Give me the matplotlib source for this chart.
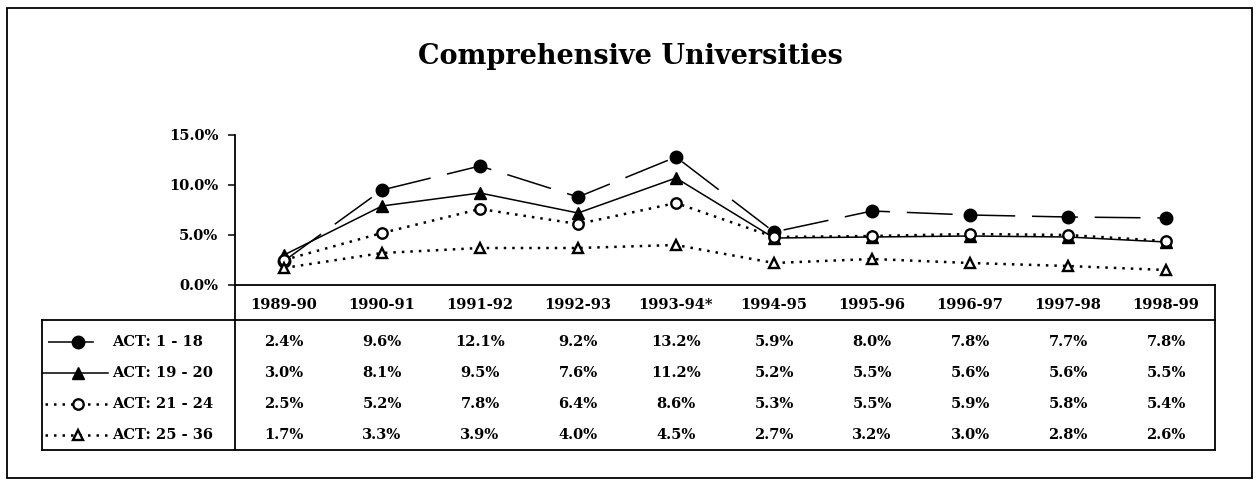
import matplotlib
matplotlib.use("Agg")
import matplotlib.pyplot as plt
from matplotlib.lines import Line2D
from matplotlib.patches import Rectangle
from matplotlib import transforms

plt.rcParams['font.family'] = 'DejaVu Serif'
plt.rcParams['font.weight'] = 'bold'

# data
years = ['1989-90', '1990-91', '1991-92', '1992-93', '1993-94*', '1994-95',
         '1995-96', '1996-97', '1997-98', '1998-99']
groups = ['ACT: 1 - 18', 'ACT: 19 - 20', 'ACT: 21 - 24', 'ACT: 25 - 36']

# values printed in the table
table_1_18 = [2.4, 9.6, 12.1, 9.2, 13.2, 5.9, 8.0, 7.8, 7.7, 7.8]
table_19_20 = [3.0, 8.1, 9.5, 7.6, 11.2, 5.2, 5.5, 5.6, 5.6, 5.5]
table_21_24 = [2.5, 5.2, 7.8, 6.4, 8.6, 5.3, 5.5, 5.9, 5.8, 5.4]
table_25_36 = [1.7, 3.3, 3.9, 4.0, 4.5, 2.7, 3.2, 3.0, 2.8, 2.6]

# values as drawn in the line chart
line_1_18 = [2.4, 9.5, 11.9, 8.8, 12.8, 5.3, 7.4, 7.0, 6.8, 6.7]
line_19_20 = [3.0, 7.9, 9.2, 7.2, 10.7, 4.7, 4.8, 4.9, 4.8, 4.3]
line_21_24 = [2.5, 5.2, 7.6, 6.1, 8.2, 4.8, 4.9, 5.1, 5.0, 4.4]
line_25_36 = [1.7, 3.2, 3.7, 3.7, 4.0, 2.2, 2.6, 2.2, 1.9, 1.5]

table_vals = [table_1_18, table_19_20, table_21_24, table_25_36]
line_vals = [line_1_18, line_19_20, line_21_24, line_25_36]

styles = [
    dict(color='black', lw=1.1, linestyle=(0, (30, 11)), marker='o', markersize=9,
         markerfacecolor='black', markeredgecolor='black'),
    dict(color='black', lw=1.1, linestyle='-', marker='^', markersize=9,
         markerfacecolor='black', markeredgecolor='black'),
    dict(color='black', lw=1.8, linestyle=(0, (1, 2.4)), marker='o', markersize=7.5,
         markerfacecolor='white', markeredgecolor='black', markeredgewidth=1.7),
    dict(color='black', lw=1.8, linestyle=(0, (1, 2.4)), marker='^', markersize=7.5,
         markerfacecolor='white', markeredgecolor='black', markeredgewidth=1.7),
]

W, H = 1260, 491
fig = plt.figure(figsize=(W / 100, H / 100), dpi=100)

# overlay in pixel coordinates for frame and table
ov = fig.add_axes([0, 0, 1, 1])
ov.set_xlim(0, W)
ov.set_ylim(H, 0)
ov.axis('off')

L, R, T, B = 235, 1215, 135, 285
ax = fig.add_axes([L / W, 1 - B / H, (R - L) / W, (B - T) / H])
ax.patch.set_alpha(0)
x = list(range(len(years)))
for vals, st in zip(line_vals, styles):
    ax.plot(x, vals, clip_on=False, **st)
ax.set_xlim(-0.5, len(years) - 0.5)
ax.set_ylim(0, 15)
ax.set_yticks([0, 5, 10, 15])
ax.set_yticklabels(['0.0%', '5.0%', '10.0%', '15.0%'], fontsize=10.5, fontweight='bold')
ax.tick_params(axis='y', length=5, width=1.1, pad=7)
ax.set_xticks([])
for s in ['top', 'right']:
    ax.spines[s].set_visible(False)
for s in ['left', 'bottom']:
    ax.spines[s].set_linewidth(1.3)

fig.text(630 / W, 1 - 57 / H, 'Comprehensive Universities', ha='center', va='center',
         fontsize=19.5, fontweight='bold')

# outer frame
ov.add_patch(Rectangle((7, 8), 1245, 470, fill=False, lw=1.3, ec='black'))

# table
tb = transforms.blended_transform_factory(ax.transData, ov.transData)
lk = dict(color='black', lw=1.3)
ov.plot([L, L], [B, 450], **lk)
ov.plot([R, R], [B, 450], **lk)
ov.plot([42, R], [320, 320], **lk)
ov.plot([42, 42], [320, 450], **lk)
ov.plot([42, R], [450, 450], **lk)

for i, yr in enumerate(years):
    ov.text(i, 305, yr, transform=tb, ha='center', va='center', fontsize=10.5, fontweight='bold')

row_y = [342, 373, 404, 435]
sample_x = [(48, 98), (43, 108), (45, 108), (45, 108)]
for r, (name, vals, st) in enumerate(zip(groups, table_vals, styles)):
    yy = row_y[r]
    x0, x1 = sample_x[r]
    ov.add_line(Line2D([x0, x1], [yy, yy], color='black', lw=st['lw'], linestyle=st['linestyle']))
    ov.plot([78], [yy], linestyle='none',
            **{k: v for k, v in st.items() if k not in ('lw', 'linestyle', 'color')})
    ov.text(112, yy, name, ha='left', va='center', fontsize=10.5, fontweight='bold')
    for i, v in enumerate(vals):
        ov.text(i, yy, f'{v:.1f}%', transform=tb, ha='center', va='center',
                fontsize=10.5, fontweight='bold')

fig.savefig('out.png', dpi=100)
